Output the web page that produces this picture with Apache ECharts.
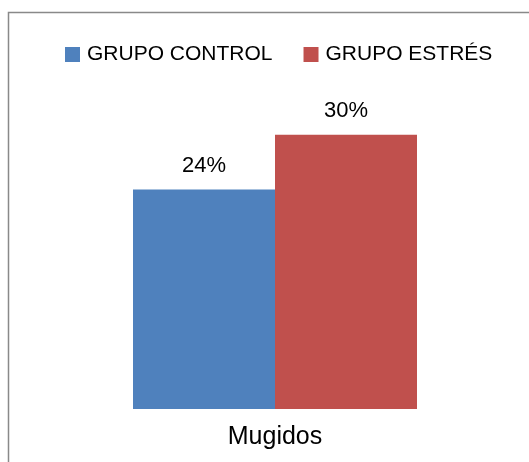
<!DOCTYPE html>
<html><head><meta charset="utf-8">
<script src="https://cdn.jsdelivr.net/npm/echarts@6/dist/echarts.min.js"></script>
<style>html,body{margin:0;padding:0;background:#fff}#c{width:529px;height:462px}</style>
</head><body><div id="c"></div>
<script>
const categories = ['Mugidos'];
const seriesNames = ['GRUPO CONTROL', 'GRUPO ESTRÉS'];
const controlValues = [24];
const estresValues = [30];
const colors = ['#4F81BD', '#C0504D'];
const FONT = 'Liberation Sans';
const chart = echarts.init(document.getElementById('c'));
const labelCfg = {show: true, position: 'top', distance: 13, formatter: p => p.value + '%', color: '#000', fontFamily: FONT, fontSize: 22};
chart.setOption({
  animation: false,
  graphic: [{type: 'rect', shape: {x: 8.5, y: 12.5, width: 700, height: 700}, style: {fill: 'none', stroke: '#898989', lineWidth: 1.5}}],
  legend: {
    left: 65, top: 44, padding: 0, itemWidth: 15, itemHeight: 15, itemGap: 31,
    icon: 'rect',
    textStyle: {fontFamily: FONT, fontSize: 21, color: '#000', padding: [0, 0, 0, 2]},
    data: seriesNames
  },
  grid: {left: 27, width: 496, top: 89, bottom: 53},
  xAxis: {type: 'category', data: categories, axisLine: {show: false}, axisTick: {show: false},
    axisLabel: {fontFamily: FONT, fontSize: 25, color: '#000', margin: 16}},
  yAxis: {type: 'value', min: 0, max: 35, show: false, splitLine: {show: false}},
  series: [
    {name: seriesNames[0], type: 'bar', data: controlValues, barWidth: 142, barGap: '0%', itemStyle: {color: colors[0]}, label: labelCfg},
    {name: seriesNames[1], type: 'bar', data: estresValues, barWidth: 142, barGap: '0%', itemStyle: {color: colors[1]}, label: labelCfg}
  ]
});
</script></body></html>
